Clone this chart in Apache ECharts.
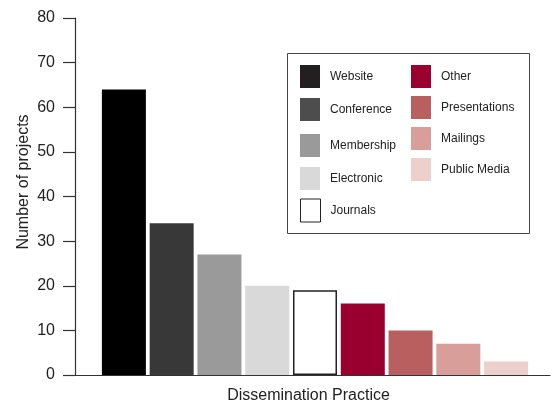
<!DOCTYPE html>
<html>
<head>
<meta charset="utf-8">
<script src="https://cdn.jsdelivr.net/npm/echarts@6/dist/echarts.min.js"></script>
<style>
  html, body { margin: 0; padding: 0; background: #fff; }
  #chart { width: 553px; height: 402px; }
</style>
</head>
<body>
<div id="chart"></div>
<script>
const categories = ['Website', 'Conference', 'Membership', 'Electronic', 'Journals',
                    'Other', 'Presentations', 'Mailings', 'Public Media'];
const projectCounts = [64, 34, 27, 20, 19, 16, 10, 7, 3];
const barColors = ['#000000', '#383838', '#9a9a9a', '#d9d9d9', '#ffffff',
                   '#990030', '#b95f5f', '#d89e99', '#edd0cb'];
const swatchColors = ['#231f20', '#4d4d4d', '#9a9a9a', '#d9d9d9', '#ffffff',
                      '#990030', '#b95f5f', '#d89e99', '#edd0cb'];
const yTicks = { min: 0, max: 80, interval: 10 };
const xTitle = 'Dissemination Practice';
const yTitle = 'Number of projects';

// legend key placement: two columns inside the framed box
const legendLeft = [300, 300, 300, 300, 300, 411, 411, 411, 411];
const legendTop = [65, 98, 134, 167, 198.5, 65, 96, 127, 158];

const FONT = 'Liberation Sans, Arial, Helvetica, sans-serif';
const chart = echarts.init(document.getElementById('chart'), null, { renderer: 'canvas' });

// one series per practice, stacked so each bar sits centred in its own slot
const series = categories.map((name, i) => ({
  name: name,
  type: 'bar',
  stack: 'all',
  xAxisIndex: 1,
  yAxisIndex: 1,
  barWidth: 44,
  data: categories.map((_, j) => (j === i ? projectCounts[i] : '-')),
  itemStyle: {
    color: barColors[i],
    borderColor: name === 'Journals' ? '#222' : barColors[i],
    borderWidth: name === 'Journals' ? 1.5 : 0
  }
}));

const legends = categories.map((name, i) => ({
  orient: 'vertical',
  icon: 'rect',
  itemWidth: 20,
  itemHeight: 23,
  padding: 0,
  left: legendLeft[i],
  top: legendTop[i],
  selectedMode: false,
  textStyle: { fontFamily: FONT, fontSize: 12, color: '#222', padding: [0, 0, 0, 5] },
  data: [{
    name: name,
    itemStyle: {
      color: swatchColors[i],
      borderColor: name === 'Journals' ? '#222' : swatchColors[i],
      borderWidth: name === 'Journals' ? 1 : 0
    }
  }]
}));

chart.setOption({
  animation: false,
  grid: [
    { left: 75, top: 18, width: 475, height: 357 },
    { left: 100, top: 18, width: 430, height: 357 }
  ],
  xAxis: [
    {
      gridIndex: 0, type: 'category', data: [''],
      axisLine: { lineStyle: { color: '#333', width: 1.2 } },
      axisTick: { show: false }, axisLabel: { show: false }
    },
    {
      gridIndex: 1, type: 'category', data: categories,
      axisLine: { show: false }, axisTick: { show: false }, axisLabel: { show: false }
    }
  ],
  yAxis: [
    {
      gridIndex: 0, type: 'value', min: yTicks.min, max: yTicks.max, interval: yTicks.interval,
      axisLine: { show: true, lineStyle: { color: '#333', width: 1.2 } },
      axisTick: { show: true, length: 12, lineStyle: { color: '#333', width: 1.2 } },
      axisLabel: { margin: 20, fontFamily: FONT, fontSize: 16, color: '#222' },
      splitLine: { show: false }
    },
    {
      gridIndex: 1, type: 'value', min: yTicks.min, max: yTicks.max, interval: yTicks.interval,
      show: false
    }
  ],
  legend: legends,
  graphic: [
    {
      type: 'rect',
      shape: { x: 287.5, y: 53.5, width: 242, height: 180 },
      style: { fill: 'none', stroke: '#444', lineWidth: 1 },
      z: 0
    },
    {
      type: 'text', x: 308.5, y: 395.5,
      style: { text: xTitle, fontFamily: FONT, fontSize: 16, fill: '#222',
               textAlign: 'center', textVerticalAlign: 'middle' }
    },
    {
      type: 'text', x: 24, y: 182, rotation: Math.PI / 2,
      style: { text: yTitle, fontFamily: FONT, fontSize: 16, fill: '#222',
               textAlign: 'center', textVerticalAlign: 'middle' }
    }
  ],
  series: series
});
</script>
</body>
</html>
